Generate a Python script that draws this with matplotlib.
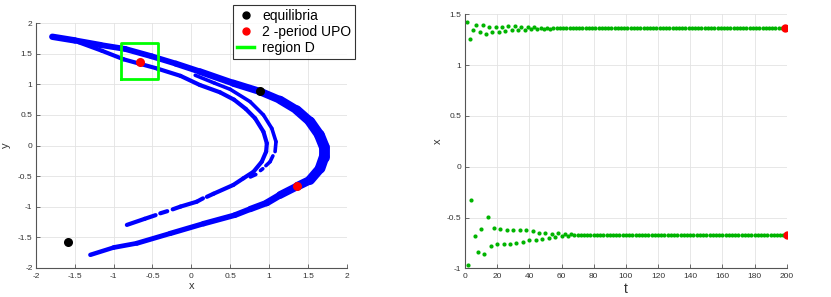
import numpy as np
import matplotlib
matplotlib.use('Agg')
import matplotlib.pyplot as plt
from matplotlib.lines import Line2D
from matplotlib.collections import LineCollection

plt.rcParams['font.family'] = ['Liberation Sans', 'DejaVu Sans']

# ---- left panel: attractor branches ----
outer_x = [-1.79, -1.5, -1.17, -0.85, -0.51, -0.2, 0.11, 0.54, 0.884, 1.143, 1.358, 1.529, 1.649,
           1.71, 1.71, 1.658, 1.529, 1.366, 1.143, 0.97, 0.76, 0.56, 0.156, -0.273, -0.70, -1.0, -1.30]
outer_y = [1.78, 1.72, 1.645, 1.58, 1.46, 1.34, 1.21, 1.02, 0.884, 0.745, 0.581, 0.39, 0.172,
           -0.02, -0.183, -0.373, -0.565, -0.666, -0.81, -0.94, -1.04, -1.14, -1.28, -1.44, -1.60, -1.67, -1.79]

inner_l_x = [-1.45, -1.15, -0.87, -0.67, -0.44, -0.14, 0.11, 0.37, 0.55, 0.70, 0.821, 0.928, 0.972,
             0.963, 0.907, 0.8, 0.67, 0.54, 0.285, 0.2, np.nan, 0.15, 0.07, -0.14, -0.24, np.nan,
             -0.31, -0.40, np.nan, -0.46, -0.6, -0.83]
inner_l_y = [1.69, 1.55, 1.41, 1.34, 1.26, 1.14, 0.99, 0.87, 0.75, 0.60, 0.445, 0.226, 0.036,
             -0.1, -0.265, -0.43, -0.537, -0.646, -0.79, -0.84, np.nan, -0.865, -0.92, -1.0, -1.045, np.nan,
             -1.075, -1.11, np.nan, -1.14, -1.20, -1.30]

inner_r_x = [0.05, 0.3, 0.5, 0.757, 0.928, 1.036, 1.09, 1.078, np.nan, 1.05, 1.014, 0.96,
             np.nan, 0.92, 0.89, np.nan, 0.83, 0.76]
inner_r_y = [1.15, 1.02, 0.92, 0.717, 0.5, 0.28, 0.062, -0.1, np.nan, -0.17, -0.265, -0.33,
             np.nan, -0.38, -0.41, np.nan, -0.475, -0.515]

equil_x = [0.884, -1.584]
equil_y = [0.884, -1.584]
upo_x = [-0.666, 1.366]
upo_y = [1.366, -0.666]
region_x = [-0.91, -0.43]
region_y = [1.09, 1.67]

# ---- right panel: controlled time series ----
top_t = list(range(1, 200, 2))
top_x = [1.428, 1.261, 1.346, 1.395, 1.330, 1.399, 1.304, 1.372, 1.326, 1.375, 1.330,
         1.375, 1.340, 1.382, 1.343, 1.382, 1.343, 1.375, 1.350, 1.372, 1.353,
         1.372, 1.356, 1.370, 1.358, 1.369, 1.360, 1.368, 1.362, 1.367, 1.363] + [1.366] * 69
bot_t = list(range(2, 201, 2))
bot_x = [-0.969, -0.324, -0.678, -0.835, -0.609, -0.864, -0.491, -0.779, -0.599, -0.763,
         -0.615, -0.763, -0.625, -0.763, -0.622, -0.753, -0.619, -0.737, -0.625, -0.723,
         -0.635, -0.717, -0.651, -0.710, -0.655, -0.704, -0.658, -0.691, -0.655, -0.681,
         -0.658, -0.681, -0.665, -0.674, -0.671, -0.674] + [-0.668] * 64

# stroke widths (pt) for each branch segment
outer_w = [4.6, 4.4, 4.2, 4.2, 4.2, 4.4, 4.8, 5.2, 5.6, 6.2, 6.8, 7.4, 7.8, 7.8, 7.6, 7.0,
           6.2, 5.6, 5.0, 4.6, 4.2, 4.0, 3.8, 3.6, 3.4, 3.2]


def band(ax, xs, ys, widths):
    segs, ws = [], []
    for i in range(len(xs) - 1):
        p = (xs[i], ys[i])
        q = (xs[i + 1], ys[i + 1])
        if np.isnan(p[0]) or np.isnan(q[0]):
            continue
        segs.append([p, q])
        ws.append(widths[i] if np.ndim(widths) else widths)
    lc = LineCollection(segs, linewidths=ws, colors='#0000ff', capstyle='round', joinstyle='round')
    ax.add_collection(lc)


fig = plt.figure(figsize=(8.31, 2.97), dpi=100)


def style(ax):
    for s in ['top', 'right']:
        ax.spines[s].set_visible(False)
    for s in ['left', 'bottom']:
        ax.spines[s].set_color('#555555')
        ax.spines[s].set_linewidth(0.8)
    ax.tick_params(direction='in', length=3, width=0.6, colors='#555555', labelsize=6,
                   labelcolor='#333333')
    ax.tick_params(axis='x', pad=3.5)
    ax.tick_params(axis='y', pad=2.5)
    ax.grid(True, color='#e3e3e3', lw=0.6)
    ax.set_axisbelow(True)


ax1 = fig.add_axes([0.0433, 0.0987, 0.3739, 0.8228])
style(ax1)
band(ax1, outer_x, outer_y, outer_w)
band(ax1, inner_l_x, inner_l_y, 3.0)
band(ax1, inner_r_x, inner_r_y, 2.6)
ax1.plot([region_x[0], region_x[1], region_x[1], region_x[0], region_x[0]],
         [region_y[0], region_y[0], region_y[1], region_y[1], region_y[0]], color='#00ff00', lw=2.0)
ax1.plot(equil_x, equil_y, 'o', color='black', ms=6.5, mew=0)
ax1.plot(upo_x, upo_y, 'o', color='red', ms=6.5, mew=0)
ax1.set_xlim(-2, 2)
ax1.set_ylim(-2, 2)
ax1.set_xticks(np.arange(-2, 2.01, 0.5))
ax1.set_yticks(np.arange(-2, 2.01, 0.5))
ax1.set_xticklabels(['-2', '-1.5', '-1', '-0.5', '0', '0.5', '1', '1.5', '2'])
ax1.set_yticklabels(['-2', '-1.5', '-1', '-0.5', '0', '0.5', '1', '1.5', '2'])
ax1.set_xlabel('x', fontsize=8, labelpad=1, color='#333333')
ax1.set_ylabel('y', fontsize=8, labelpad=5, color='#333333')

handles = [Line2D([], [], marker='o', ls='none', color='black', ms=5),
           Line2D([], [], marker='o', ls='none', color='red', ms=5),
           Line2D([], [], color='#00ff00', lw=2.5)]
leg = fig.legend(handles, ['equilibria', '2 -period UPO', 'region D'], loc='upper left',
                 bbox_to_anchor=(0.2804, 0.9832), bbox_transform=fig.transFigure,
                 fontsize=10, frameon=True, fancybox=False, handlelength=1.2,
                 handletextpad=0.6, borderpad=0.3, labelspacing=0.15, borderaxespad=0)
leg.get_frame().set_edgecolor('black')
leg.get_frame().set_linewidth(0.8)

ax2 = fig.add_axes([0.5596, 0.0966, 0.3871, 0.8552])
style(ax2)
green = '#00b400'
ax2.plot(top_t, top_x, 'o', color=green, ms=3.0, mew=0)
ax2.plot(bot_t, bot_x, 'o', color=green, ms=3.0, mew=0)
ax2.plot([top_t[-1], bot_t[-1]], [top_x[-1], bot_x[-1]], 'o', color='red', ms=6, mew=0)
ax2.set_xlim(0, 200)
ax2.set_ylim(-1, 1.5)
ax2.set_xticks(np.arange(0, 201, 20))
ax2.set_yticks([-1, -0.5, 0, 0.5, 1, 1.5])
ax2.set_yticklabels(['-1', '-0.5', '0', '0.5', '1', '1.5'])
ax2.set_xlabel('t', fontsize=10, labelpad=1, color='#333333')
ax2.set_ylabel('x', fontsize=8, labelpad=3, color='#333333')

fig.savefig('out.png', dpi=100)
